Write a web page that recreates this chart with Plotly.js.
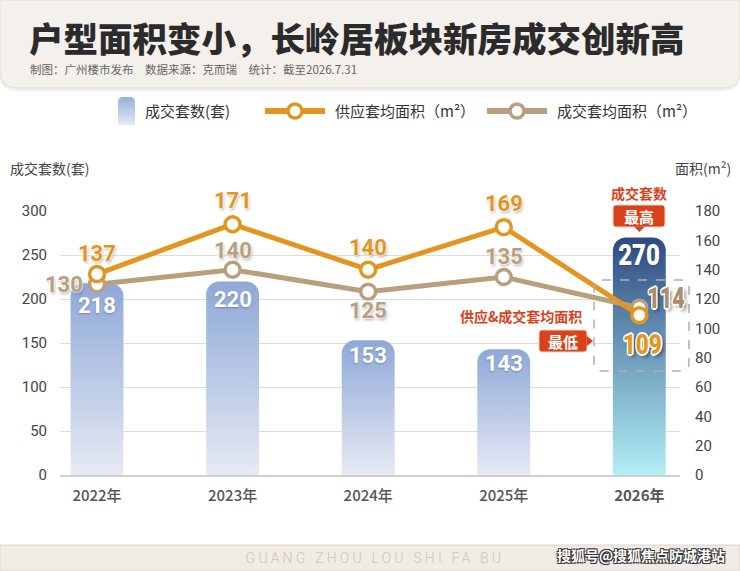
<!DOCTYPE html>
<html>
<head>
<meta charset="utf-8">
<script src="https://cdn.plot.ly/plotly-3.0.1.min.js"></script>
<style>
html,body{margin:0;padding:0;background:#fff;}
#chart{width:740px;height:571px;}
</style>
</head>
<body>
<div id="chart"></div>
<script>
// ---- data ----
const years = ['2022年', '2023年', '2024年', '2025年', '2026年'];
const dealUnits = [218, 220, 153, 143, 270];
const supplyArea = [137, 171, 140, 169, 109];
const dealArea = [130, 140, 125, 135, 114];
const leftTicks = [0, 50, 100, 150, 200, 250, 300];
const rightTicks = [0, 20, 40, 60, 80, 100, 120, 140, 160, 180];
const seriesNames = ['成交套数(套)', '供应套均面积（m²）', '成交套均面积（m²）'];

// ---- style ----
const ORANGE = '#e3961f', TAN = '#b89f7e', RED = '#d8431c';
const CJK = '"Noto Sans CJK SC", "Noto Sans", sans-serif';
const NUM = 'Roboto, "Noto Sans", sans-serif';
const L = 60, R = 680, T = 211, B = 475;
const px = x => (x - L) / (R - L);
const py = y => (B - y) / (B - T);
const P = (x, y) => px(x).toFixed(5) + ',' + py(y).toFixed(5);

function roundRect(x0, y0, x1, y1, r, rb) {
  if (rb === undefined) rb = r;
  return 'M' + P(x0 + r, y0) + ' L' + P(x1 - r, y0) + ' Q' + P(x1, y0) + ' ' + P(x1, y0 + r) +
    ' L' + P(x1, y1 - rb) + ' Q' + P(x1, y1) + ' ' + P(x1 - rb, y1) +
    ' L' + P(x0 + rb, y1) + ' Q' + P(x0, y1) + ' ' + P(x0, y1 - rb) +
    ' L' + P(x0, y0 + r) + ' Q' + P(x0, y0) + ' ' + P(x0 + r, y0) + ' Z';
}
function headerPath(dy) {
  return 'M' + P(0, 0) + ' L' + P(740, 0) + ' L' + P(740, 72 + dy) + ' Q' + P(740, 88 + dy) + ' ' + P(722, 88 + dy) +
    ' L' + P(18, 88 + dy) + ' Q' + P(0, 88 + dy) + ' ' + P(0, 72 + dy) + ' Z';
}

const last = years.length - 1;
const tickText = years.map((y, i) => i === last ? '<b>' + y + '</b>' : y);

const traces = [
  {
    type: 'bar', name: seriesNames[0], x: years, y: dealUnits, yaxis: 'y',
    width: 0.39,
    marker: { color: years.map((_, i) => i === last ? '#3f679e' : '#a3b7df'), cornerradius: 13, line: { width: 0 } },
    hoverinfo: 'skip'
  },
  {
    type: 'scatter', mode: 'lines+markers', name: seriesNames[2], x: years, y: dealArea, yaxis: 'y2',
    line: { color: TAN, width: 5 },
    marker: { size: 15, color: '#ffffff', line: { color: TAN, width: 3.5 } },
    cliponaxis: false, hoverinfo: 'skip'
  },
  {
    type: 'scatter', mode: 'lines+markers', name: seriesNames[1], x: years, y: supplyArea, yaxis: 'y2',
    line: { color: ORANGE, width: 5 },
    marker: { size: 15, color: '#ffffff', line: { color: ORANGE, width: 3.5 } },
    cliponaxis: false, hoverinfo: 'skip'
  }
];

const annotations = [];
const squeeze = {};   // annotation index -> horizontal scale (condensed look)
const whiteGlow = '0 0 2px #fff, 0 0 2px #fff, 0 0 3px #fff, 1px 2px 3px rgba(0,0,0,0.35)';
const outline = '1.5px 0 0 #fff, -1.5px 0 0 #fff, 0 1.5px 0 #fff, 0 -1.5px 0 #fff, 1.2px 1.2px 0 #fff, -1.2px -1.2px 0 #fff, 1.2px -1.2px 0 #fff, -1.2px 1.2px 0 #fff, 3px 3px 4px rgba(0,0,0,0.5)';
const barShift = [-22, -18, -15, -14, -17];
dealUnits.forEach((v, i) => {
  if (i === last) squeeze[annotations.length] = 0.8;
  annotations.push({
    x: years[i], y: v, xref: 'x', yref: 'y', text: String(v), showarrow: false,
    yanchor: 'middle', yshift: barShift[i],
    font: { family: NUM, size: i === last ? 30 : 22, color: '#ffffff', weight: i === last ? 900 : 700, shadow: '0 1px 2px rgba(0,0,0,0.25)' }
  });
});
const supShift = [[0, 21], [0, 24], [0, 22], [0, 24], [3, -29]];
supplyArea.forEach((v, i) => {
  if (i === last) squeeze[annotations.length] = 0.8;
  annotations.push({
    x: years[i], y: v, xref: 'x', yref: 'y2', text: String(v), showarrow: false,
    xshift: supShift[i][0], yshift: supShift[i][1],
    font: { family: NUM, size: i === last ? 28 : 22, color: ORANGE, weight: i === last ? 900 : 700, shadow: i === last ? outline : whiteGlow }
  });
});
const dealShift = [[-33, 0], [0, 19], [0, -19], [0, 21], [27, 10]];
dealArea.forEach((v, i) => {
  if (i === last) squeeze[annotations.length] = 0.72;
  annotations.push({
    x: years[i], y: v, xref: 'x', yref: 'y2', text: String(v), showarrow: false,
    xshift: dealShift[i][0], yshift: dealShift[i][1],
    font: { family: NUM, size: i === last ? 30 : 22, color: i === last ? '#a88e6c' : TAN, weight: i === last ? 900 : 700, shadow: i === last ? outline : whiteGlow }
  });
});

function paperText(x, y, text, font, xanchor) {
  annotations.push({ xref: 'paper', yref: 'paper', x: px(x), y: py(y), text: text, showarrow: false,
    xanchor: xanchor || 'center', yanchor: 'middle', font: font });
  return annotations.length - 1;
}
// header texts
paperText(27, 37, '户型面积变小，长岭居板块新房成交创新高', { family: CJK, size: 34.5, color: '#2b2b2b', weight: 900 }, 'left');
paperText(28, 69, '制图：广州楼市发布　数据来源：克而瑞　统计：截至2026.7.31', { family: CJK, size: 11.5, color: '#666666' }, 'left');
// legend texts
paperText(143, 111, seriesNames[0], { family: CJK, size: 15, color: '#333333' }, 'left');
paperText(333, 111, seriesNames[1], { family: CJK, size: 15, color: '#333333' }, 'left');
paperText(555, 111, seriesNames[2], { family: CJK, size: 15, color: '#333333' }, 'left');
// axis titles
paperText(8, 168, '成交套数(套)', { family: CJK, size: 14, color: '#444444' }, 'left');
paperText(733, 168, '面积(m²)', { family: CJK, size: 14, color: '#444444' }, 'right');
// callouts
paperText(639, 193, '成交套数', { family: CJK, size: 14, color: RED, weight: 700 });
paperText(639, 216, '最高', { family: CJK, size: 15, color: '#ffffff', weight: 700 });
paperText(521, 316, '供应&成交套均面积', { family: CJK, size: 14, color: RED, weight: 700 });
paperText(563, 341, '最低', { family: CJK, size: 15, color: '#ffffff', weight: 700 });
// footer
const footIdx = paperText(375, 558, 'GUANG ZHOU LOU SHI FA BU', { family: 'Roboto, sans-serif', size: 14, color: '#cdc6c0', weight: 300 }, 'center');
paperText(727, 555, '搜狐号@搜狐焦点防城港站', { family: CJK, size: 14, color: '#ffffff', weight: 700,
  shadow: '1px 1px 0 #333, -1px -1px 0 #333, 1px -1px 0 #333, -1px 1px 0 #333' }, 'right');

const shapes = [
  { type: 'path', xref: 'paper', yref: 'paper', path: headerPath(3), fillcolor: 'rgba(120,100,80,0.10)', line: { width: 0 }, layer: 'below' },
  { type: 'path', xref: 'paper', yref: 'paper', path: headerPath(0), fillcolor: '#f4f0eb', line: { color: '#e6ddd2', width: 1 }, layer: 'below' },
  { type: 'rect', xref: 'paper', yref: 'paper', x0: px(0), x1: px(740), y0: py(571), y1: py(545), fillcolor: '#f1ebe5', line: { color: '#e0d5c9', width: 1 }, layer: 'below' },
  // legend icons
  { type: 'path', xref: 'paper', yref: 'paper', path: roundRect(118, 97, 135, 125, 5, 0.5), fillcolor: '#b0c1e4', line: { width: 0 }, layer: 'above' },
  { type: 'line', xref: 'paper', yref: 'paper', x0: px(265), x1: px(325), y0: py(111), y1: py(111), line: { color: ORANGE, width: 6 }, layer: 'above' },
  { type: 'circle', xref: 'paper', yref: 'paper', x0: px(288), x1: px(302), y0: py(118), y1: py(104), fillcolor: '#ffffff', line: { color: ORANGE, width: 3.5 }, layer: 'above' },
  { type: 'line', xref: 'paper', yref: 'paper', x0: px(487), x1: px(547), y0: py(111), y1: py(111), line: { color: TAN, width: 6 }, layer: 'above' },
  { type: 'circle', xref: 'paper', yref: 'paper', x0: px(510), x1: px(524), y0: py(118), y1: py(104), fillcolor: '#ffffff', line: { color: TAN, width: 3.5 }, layer: 'above' },
  // dashed highlight box
  { type: 'path', xref: 'paper', yref: 'paper', path: roundRect(594, 280, 689, 371, 8), fillcolor: 'rgba(0,0,0,0)', line: { color: '#b0b0b0', width: 1.5, dash: 'dash' }, layer: 'above' },
  // 最高 tag
  { type: 'path', xref: 'paper', yref: 'paper', path: roundRect(613, 205, 665, 227, 3), fillcolor: RED, line: { color: '#f6d2c4', width: 1 }, layer: 'above' },
  { type: 'path', xref: 'paper', yref: 'paper', path: 'M' + P(634, 226.5) + ' L' + P(645, 226.5) + ' L' + P(639.5, 232) + ' Z', fillcolor: RED, line: { width: 0 }, layer: 'above' },
  // 最低 tag
  { type: 'path', xref: 'paper', yref: 'paper', path: roundRect(539, 330, 587, 352, 3), fillcolor: RED, line: { color: '#f6d2c4', width: 1 }, layer: 'above' },
  { type: 'path', xref: 'paper', yref: 'paper', path: 'M' + P(586.5, 335.5) + ' L' + P(586.5, 346.5) + ' L' + P(593, 341) + ' Z', fillcolor: RED, line: { width: 0 }, layer: 'above' }
];
const legendBarShape = 3;

const layout = {
  width: 740, height: 571,
  margin: { l: L, r: 740 - R, t: T, b: 571 - B, pad: 0 },
  paper_bgcolor: '#ffffff', plot_bgcolor: '#ffffff',
  showlegend: false,
  xaxis: {
    type: 'category', range: [-0.273, 4.30], tickvals: years, ticktext: tickText,
    tickfont: { family: CJK, size: 15, color: '#555555', weight: 500 },
    showgrid: false, zeroline: false, showline: true, linecolor: '#cfcfcf', linewidth: 1.5, ticks: '',
    ticklabelstandoff: 6, fixedrange: true
  },
  yaxis: {
    range: [0, 300], tickvals: leftTicks, tickfont: { family: NUM, size: 15, color: '#444444' },
    showgrid: true, gridcolor: '#dddddd', gridwidth: 1, zeroline: false, showline: false, ticks: '',
    ticklabelstandoff: 12, fixedrange: true
  },
  yaxis2: {
    range: [0, 180], tickvals: rightTicks, overlaying: 'y', side: 'right',
    tickfont: { family: NUM, size: 15, color: '#444444' },
    showgrid: false, zeroline: false, showline: false, ticks: '', ticklabelstandoff: 14, fixedrange: true
  },
  annotations: annotations,
  shapes: shapes,
  hovermode: false
};

const gd = document.getElementById('chart');
Plotly.newPlot(gd, traces, layout, { displayModeBar: false, staticPlot: true }).then(() => {
  const NS = 'http://www.w3.org/2000/svg';
  const svg = gd.querySelector('svg.main-svg');
  let defs = svg.querySelector('defs');
  if (!defs) { defs = document.createElementNS(NS, 'defs'); svg.insertBefore(defs, svg.firstChild); }
  function grad(id, top, bottom) {
    const g = document.createElementNS(NS, 'linearGradient');
    g.setAttribute('id', id); g.setAttribute('x1', '0'); g.setAttribute('y1', '0'); g.setAttribute('x2', '0'); g.setAttribute('y2', '1');
    [[0, top], [1, bottom]].forEach(([o, c]) => {
      const s = document.createElementNS(NS, 'stop');
      s.setAttribute('offset', String(o)); s.setAttribute('stop-color', c); g.appendChild(s);
    });
    defs.appendChild(g);
  }
  grad('gBlue', '#8ea8d9', '#e7eaf3');
  grad('gDeep', '#2d4b82', '#b2eff6');
  grad('gLeg', '#98afdc', '#e6eaf4');
  const bars = gd.querySelectorAll('.barlayer .point path');
  bars.forEach((p, i) => { p.style.fill = (i === bars.length - 1) ? 'url(#gDeep)' : 'url(#gBlue)'; });
  const legShape = gd.querySelector('.shapelayer path[data-index="' + legendBarShape + '"]');
  if (legShape) legShape.style.fill = 'url(#gLeg)';
  // condensed look for the 2026 labels
  Object.keys(squeeze).forEach(k => {
    const g = gd.querySelector('g.annotation[data-index="' + k + '"] text.annotation-text');
    if (!g) return;
    const s = squeeze[k];
    const bb = g.getBBox();
    const cx = bb.x + bb.width / 2, cy = bb.y + bb.height / 2;
    g.setAttribute('transform', 'translate(' + cx + ',' + cy + ') scale(' + s + ',1.0) translate(' + (-cx) + ',' + (-cy) + ')');
  });
  const ft = gd.querySelector('g.annotation[data-index="' + footIdx + '"] text.annotation-text');
  if (ft) ft.style.letterSpacing = '3.2px';
});
</script>
</body>
</html>
